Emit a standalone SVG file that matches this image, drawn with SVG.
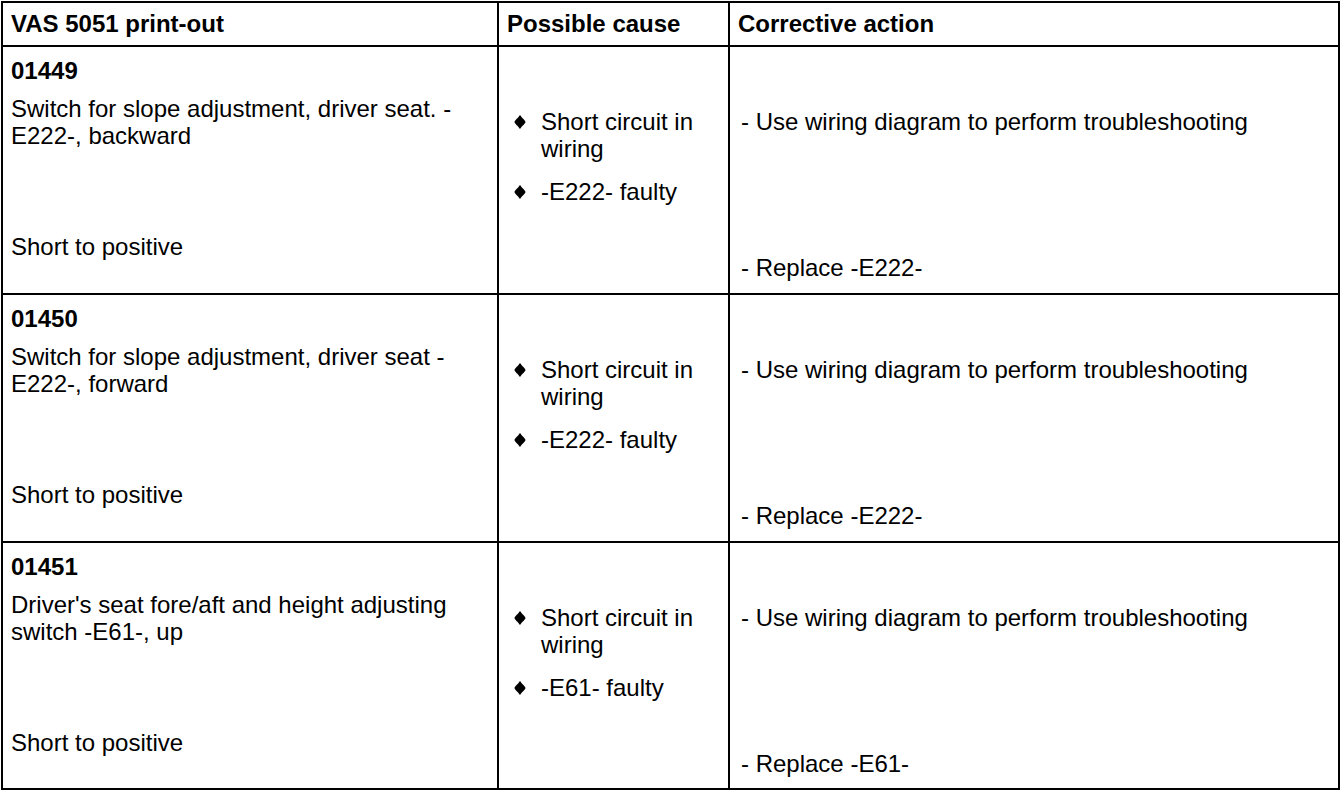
<svg xmlns="http://www.w3.org/2000/svg" width="1344" height="794" viewBox="0 0 1344 794">
<defs>
<style>
.t{font-family:"Liberation Sans",Arial,sans-serif;font-size:24px;fill:#000}
.b{font-weight:bold}
.g{stroke:#000;stroke-width:2;fill:none}
</style>
<path id="dia" d="M0,-7 C2,-4 5.5,-1.5 5.5,0 C5.5,1.5 2,4 0,7 C-2,4 -5.5,1.5 -5.5,0 C-5.5,-1.5 -2,-4 0,-7 Z" fill="#000"/>
</defs>
<rect width="1344" height="794" fill="#fff"/>
<g id="grid" class="g">
<rect x="2" y="2" width="1337" height="787"/>
<line x1="2" y1="46" x2="1339" y2="46"/>
<line x1="2" y1="294" x2="1339" y2="294"/>
<line x1="2" y1="542" x2="1339" y2="542"/>
<line x1="498" y1="2" x2="498" y2="789"/>
<line x1="729" y1="2" x2="729" y2="789"/>
</g>
<g id="header">
<text class="t b" x="11" y="32">VAS 5051 print-out</text>
<text class="t b" x="507" y="32">Possible cause</text>
<text class="t b" x="738" y="32">Corrective action</text>
</g>
<g id="row1">
<text class="t b" x="11" y="79">01449</text>
<text class="t" x="11" y="117">Switch for slope adjustment, driver seat. -</text>
<text class="t" x="11" y="144">E222-, backward</text>
<text class="t" x="11" y="255">Short to positive</text>
<use href="#dia" x="520" y="122"/>
<text class="t" x="541" y="130">Short circuit in</text>
<text class="t" x="541" y="157">wiring</text>
<use href="#dia" x="520" y="192"/>
<text class="t" x="541" y="200">-E222- faulty</text>
<text class="t" x="741" y="130">- Use wiring diagram to perform troubleshooting</text>
<text class="t" x="741" y="276">- Replace -E222-</text>
</g>
<g id="row2">
<text class="t b" x="11" y="327">01450</text>
<text class="t" x="11" y="365">Switch for slope adjustment, driver seat -</text>
<text class="t" x="11" y="392">E222-, forward</text>
<text class="t" x="11" y="503">Short to positive</text>
<use href="#dia" x="520" y="370"/>
<text class="t" x="541" y="378">Short circuit in</text>
<text class="t" x="541" y="405">wiring</text>
<use href="#dia" x="520" y="440"/>
<text class="t" x="541" y="448">-E222- faulty</text>
<text class="t" x="741" y="378">- Use wiring diagram to perform troubleshooting</text>
<text class="t" x="741" y="524">- Replace -E222-</text>
</g>
<g id="row3">
<text class="t b" x="11" y="575">01451</text>
<text class="t" x="11" y="613">Driver's seat fore/aft and height adjusting</text>
<text class="t" x="11" y="640">switch -E61-, up</text>
<text class="t" x="11" y="751">Short to positive</text>
<use href="#dia" x="520" y="618"/>
<text class="t" x="541" y="626">Short circuit in</text>
<text class="t" x="541" y="653">wiring</text>
<use href="#dia" x="520" y="688"/>
<text class="t" x="541" y="696">-E61- faulty</text>
<text class="t" x="741" y="626">- Use wiring diagram to perform troubleshooting</text>
<text class="t" x="741" y="772">- Replace -E61-</text>
</g>
</svg>
